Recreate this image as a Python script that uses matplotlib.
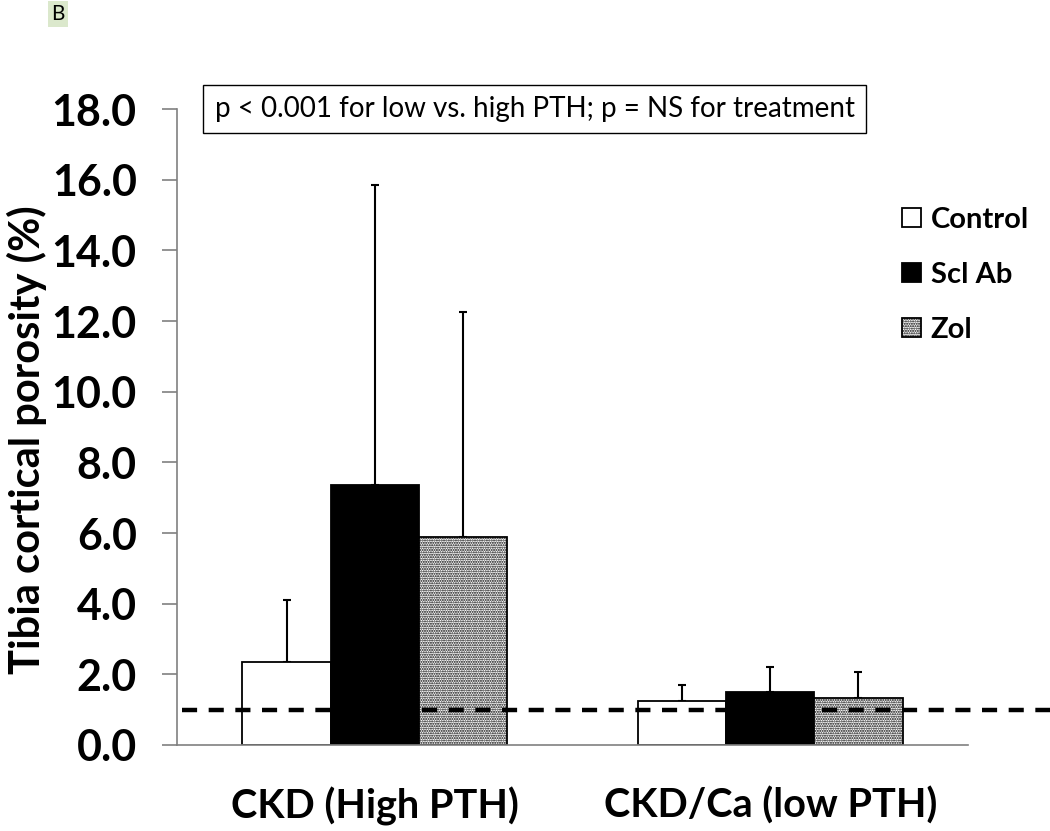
import matplotlib.pyplot as plt
import matplotlib.transforms as mtransforms
import numpy as np

plt.rcParams['font.family'] = ['Lato', 'DejaVu Sans']
plt.rcParams['hatch.color'] = '#8a8a8a'
plt.rcParams['hatch.linewidth'] = 1.0

groups = ['CKD (High PTH)', 'CKD/Ca (low PTH)']
series = ['Control', 'Scl Ab', 'Zol']
control = [2.35, 1.24]
control_sd = [1.75, 0.46]
sclab = [7.35, 1.50]
sclab_sd = [8.50, 0.70]
zol = [5.88, 1.33]
zol_sd = [6.38, 0.73]
reference_line = 1.0
yticks = [0, 2, 4, 6, 8, 10, 12, 14, 16, 18]

fig = plt.figure(figsize=(10.5, 8.31), dpi=100)
ax = fig.add_axes([0.1686, 0.1035, 0.7533, 0.7653])

x = np.arange(len(groups))
width = 0.223

styles = [
    dict(color='white', edgecolor='black'),
    dict(color='black', edgecolor='black'),
    dict(color='white', edgecolor='black', hatch='.......'),
]
values = [control, sclab, zol]
sds = [control_sd, sclab_sd, zol_sd]

for i, (vals, sd, st, name) in enumerate(zip(values, sds, styles, series)):
    pos = x + (i - 1) * width
    ax.bar(pos, vals, width, label=name, linewidth=1.3, zorder=2, **st)
    ax.errorbar(pos, vals, yerr=[np.zeros(len(sd)), sd], fmt='none',
                ecolor='black', elinewidth=1.5, capsize=3, capthick=1.5, zorder=1)

trans = mtransforms.blended_transform_factory(ax.transAxes, ax.transData)
ax.plot([0.006, 1.104], [reference_line, reference_line], transform=trans,
        color='black', linestyle=(0, (3.4, 2.6)), linewidth=3.2, clip_on=False, zorder=3)

ax.set_xlim(-0.5, 1.5)
ax.set_ylim(0, 18)
ax.set_yticks(yticks)
ax.set_yticklabels([f'{v:.1f}' for v in yticks], fontsize=31, fontweight='bold')
ax.set_xticks(x)
ax.set_xticklabels(groups, fontsize=28.5, fontweight='bold')
ax.tick_params(axis='x', length=0, pad=30)
ax.tick_params(axis='y', length=11, width=1.2, color='#808080', pad=18)
ax.set_ylabel('Tibia cortical porosity (%)', fontsize=30, fontweight='bold')
ax.yaxis.set_label_coords(-0.165, 0.48)

for side in ['top', 'right']:
    ax.spines[side].set_visible(False)
for side in ['left', 'bottom']:
    ax.spines[side].set_color('#808080')
    ax.spines[side].set_linewidth(1.2)

ax.legend(loc='upper left', bbox_to_anchor=(0.916, 0.846), frameon=False,
          prop={'weight': 'bold', 'size': 21}, handlelength=0.65, handleheight=0.65,
          handletextpad=0.35, labelspacing=0.99, borderaxespad=0, borderpad=0)

ax.text(0.452, 1.0, 'p < 0.001 for low vs. high PTH; p = NS for treatment',
        transform=ax.transAxes, ha='center', va='center', fontsize=20,
        bbox=dict(boxstyle='square,pad=0.4', facecolor='white', edgecolor='black', linewidth=1))

fig.text(0.055, 0.983, 'B', fontsize=15, ha='center', va='center',
         bbox=dict(boxstyle='square,pad=0.15', facecolor='#dbe8cc', edgecolor='none'))

fig.savefig('out.png', dpi=100)
